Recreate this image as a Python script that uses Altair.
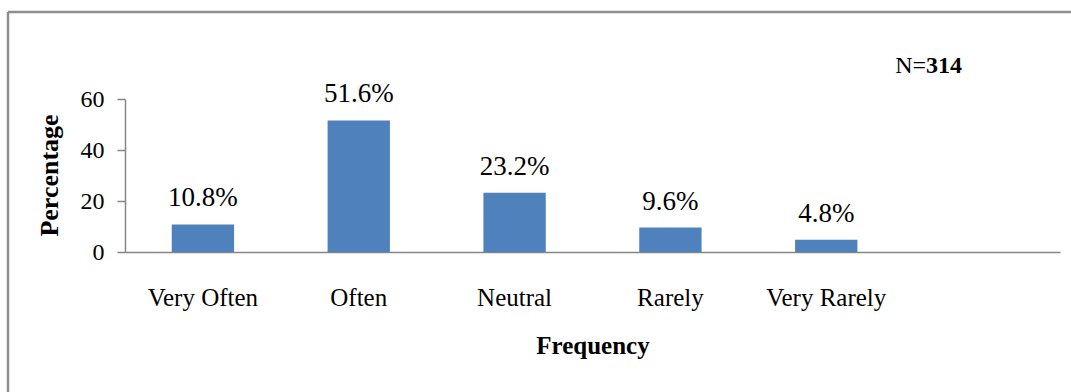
import altair as alt
import pandas as pd

categories = ["Very Often", "Often", "Neutral", "Rarely", "Very Rarely"]
values = [10.8, 51.6, 23.2, 9.6, 4.8]
value_labels = ["10.8%", "51.6%", "23.2%", "9.6%", "4.8%"]
domain = categories + [""]
y_ticks = [0, 20, 40, 60]
n_prefix = ["N="]
n_value = ["314"]

FONT = "Liberation Serif"
AXIS_COLOR = "#868686"

df = pd.DataFrame({"cat": categories, "val": values, "lab": value_labels})

x_enc = alt.X(
    "cat:N",
    sort=domain,
    scale=alt.Scale(domain=domain, paddingInner=0.6, paddingOuter=0.3),
    axis=alt.Axis(
        title="Frequency",
        labelAngle=0,
        ticks=False,
        tickSize=0,
        labelFont=FONT,
        labelFontSize=25,
        labelColor="#000000",
        labelBaseline="alphabetic",
        labelPadding=53,
        domainColor=AXIS_COLOR,
        domainWidth=1.5,
        titleFont=FONT,
        titleFontSize=25,
        titleFontWeight="bold",
        titleColor="#000000",
        titleBaseline="alphabetic",
        titleY=101,
    ),
)

y_enc = alt.Y(
    "val:Q",
    scale=alt.Scale(domain=[0, 60], nice=False),
    axis=alt.Axis(
        title="Percentage",
        values=y_ticks,
        grid=False,
        tickSize=8,
        tickColor=AXIS_COLOR,
        tickWidth=1.5,
        domainColor=AXIS_COLOR,
        domainWidth=1.5,
        labelFont=FONT,
        labelFontSize=24,
        labelColor="#000000",
        labelPadding=13,
        titleFont=FONT,
        titleFontSize=26,
        titleFontWeight="bold",
        titleColor="#000000",
        titleAngle=-90,
        titleBaseline="alphabetic",
        titleAlign="center",
        titleX=-68,
        titleY=76,
    ),
)

bars = alt.Chart(df).mark_bar(color="#4F81BD").encode(x=x_enc, y=y_enc)

labels = alt.Chart(df).mark_text(
    font=FONT, fontSize=27, baseline="alphabetic", dy=-18, color="#000000"
).encode(x=alt.X("cat:N", sort=domain), y="val:Q", text="lab:N")

n1 = alt.Chart(pd.DataFrame({"t": n_prefix})).mark_text(
    font=FONT, fontSize=24, align="right", baseline="alphabetic", color="#000000"
).encode(x=alt.value(801), y=alt.value(-26), text="t:N")

n2 = alt.Chart(pd.DataFrame({"t": n_value})).mark_text(
    font=FONT, fontSize=24, fontWeight="bold", align="left", baseline="alphabetic", color="#000000"
).encode(x=alt.value(801), y=alt.value(-26), text="t:N")

frame = pd.DataFrame({"k": [0]})
top_line = alt.Chart(frame).mark_rule(color="#8e8e8e", strokeWidth=2.5).encode(
    x=alt.value(8 - 125), x2=alt.value(1071 - 125), y=alt.value(12 - 99)
)
left_line = alt.Chart(frame).mark_rule(color="#8e8e8e", strokeWidth=2.5).encode(
    x=alt.value(8 - 125), y=alt.value(12 - 99), y2=alt.value(392 - 99)
)

chart = (
    alt.layer(top_line, left_line, bars, labels, n1, n2)
    .properties(
        width=935,
        height=153,
        autosize=alt.AutoSizeParams(type="none"),
        padding={"left": 125, "top": 99, "right": 11, "bottom": 140},
        background="#ffffff",
    )
    .configure(font=FONT)
    .configure_text(font=FONT)
    .configure_view(stroke=None)
)

chart.save("out.html", embed_options={"renderer": "svg", "actions": False})
